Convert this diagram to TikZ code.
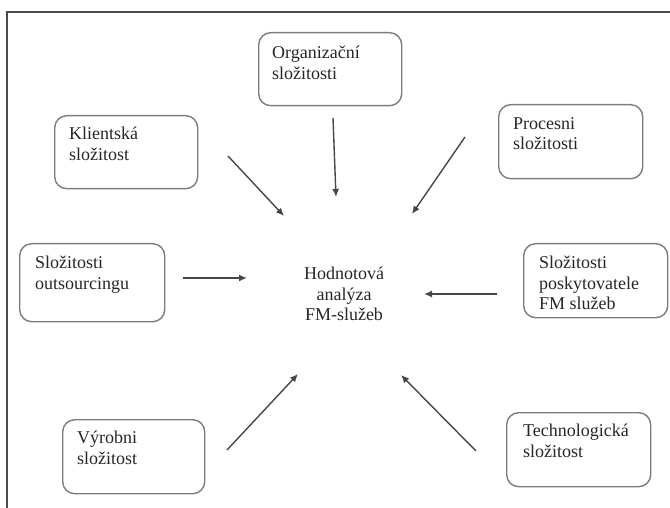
\documentclass[tikz,border=0pt]{standalone}
\usepackage{fontspec}
\setmainfont{Liberation Serif}
\usetikzlibrary{arrows.meta}
\definecolor{boxgray}{HTML}{7C7C7C}
\definecolor{linegray}{HTML}{474747}
\definecolor{framegray}{HTML}{4A4A4A}
\definecolor{textgray}{HTML}{262626}
\begin{document}
\begin{tikzpicture}[x=1pt,y=-1pt,
  cbox/.style={draw=boxgray, line width=1.4pt, rounded corners=12pt,
    minimum width=143pt, minimum height=73pt, inner sep=0pt, anchor=north west},
  ctext/.style={anchor=north west, inner sep=0pt, align=left,
    font=\fontsize{18}{20.5}\selectfont, text=textgray},
  feed/.style={draw=linegray, line width=1.4pt, -{Latex[length=8pt,width=7pt]}}]
\useasboundingbox (0,0) rectangle (670,508);

% open frame (top and left edges)
\draw[framegray, line width=2pt, line join=miter] (7,508) -- (7,12) -- (670,12);

% boxes of the individual complexities
\node[cbox] (org) at (258,32) {};
\node[cbox] (kli) at (54,115) {};
\node[cbox, minimum width=144pt, minimum height=74pt] (pro) at (498,104) {};
\node[cbox, minimum width=145pt, minimum height=78pt] (out) at (19,243) {};
\node[cbox, minimum width=144pt, minimum height=74pt] (pos) at (523,243) {};
\node[cbox, minimum width=142pt, minimum height=74pt] (vyr) at (62,419) {};
\node[cbox, minimum width=144pt, minimum height=74pt] (tec) at (506,412) {};

% box captions
\node[ctext] (orgt) at ([xshift=14pt,yshift=-14pt]org.north west) {Organizační\\složitosti};
\node[ctext] (klit) at ([xshift=15pt,yshift=-12pt]kli.north west) {Klientská\\složitost};
\node[ctext] (prot) at ([xshift=15pt,yshift=-13pt]pro.north west) {Procesni\\složitosti};
\node[ctext] (outt) at ([xshift=16pt,yshift=-13pt]out.north west) {Složitosti\\outsourcingu};
\node[ctext] (post) at ([xshift=16pt,yshift=-13pt]pos.north west) {Složitosti\\poskytovatele\\FM služeb};
\node[ctext] (vyrt) at ([xshift=15pt,yshift=-12pt]vyr.north west) {Výrobni\\složitost};
\node[ctext] (tect) at ([xshift=17pt,yshift=-12pt]tec.north west) {Technologická\\složitost};

% central topic
\node[inner sep=0pt, align=center, font=\fontsize{18}{20.5}\selectfont, text=textgray]
  (hub) at (344,294) {Hodnotová\\analýza\\FM-služeb};

% arrow ends
\coordinate (kl-s) at (228,156); \coordinate (kl-e) at (284,216);
\coordinate (or-s) at (333,118); \coordinate (or-e) at (336,197);
\coordinate (pr-s) at (465,137); \coordinate (pr-e) at (412,214);
\coordinate (ou-s) at (183,278); \coordinate (ou-e) at (247,278);
\coordinate (po-s) at (497,294); \coordinate (po-e) at (424,294);
\coordinate (vy-s) at (227,450); \coordinate (vy-e) at (298,374);
\coordinate (te-s) at (476,451); \coordinate (te-e) at (401,375);

% arrows towards the central topic
\draw[feed] (kl-s) -- (kl-e);
\draw[feed] (or-s) -- (or-e);
\draw[feed] (pr-s) -- (pr-e);
\draw[feed] (ou-s) -- (ou-e);
\draw[feed] (po-s) -- (po-e);
\draw[feed] (vy-s) -- (vy-e);
\draw[feed] (te-s) -- (te-e);
\end{tikzpicture}
\end{document}
